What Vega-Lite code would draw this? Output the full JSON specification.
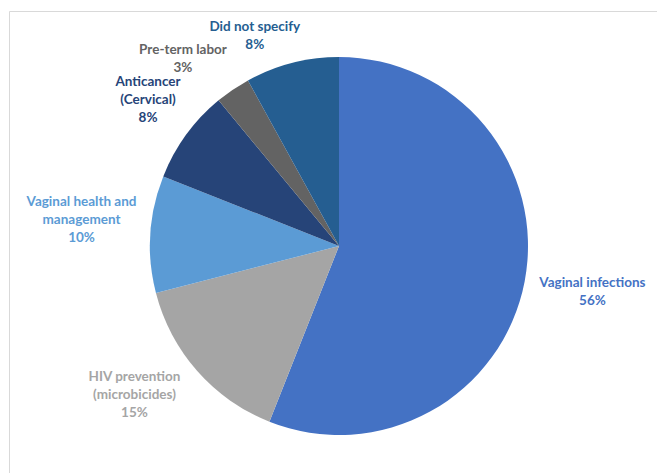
{
  "$schema": "https://vega.github.io/schema/vega-lite/v6.json",
  "width": 660,
  "height": 470,
  "autosize": {"type": "none"},
  "padding": {"left": 9, "top": 11, "right": 0, "bottom": 0},
  "background": "white",
  "view": {"stroke": "#d9d9d9", "strokeWidth": 1},
  "config": {"view": {"stroke": "#d9d9d9", "strokeWidth": 1}},
  "data": {
    "values": [
      {"category": "Vaginal infections", "percent": 56, "line1": "Vaginal infections", "line2": ""},
      {"category": "HIV prevention (microbicides)", "percent": 15, "line1": "HIV prevention", "line2": "(microbicides)"},
      {"category": "Vaginal health and management", "percent": 10, "line1": "Vaginal health and", "line2": "management"},
      {"category": "Anticancer (Cervical)", "percent": 8, "line1": "Anticancer", "line2": "(Cervical)"},
      {"category": "Pre-term labor", "percent": 3, "line1": "Pre-term labor", "line2": ""},
      {"category": "Did not specify", "percent": 8, "line1": "Did not specify", "line2": ""}
    ]
  },
  "transform": [
    {"window": [{"op": "sum", "field": "percent", "as": "cum"}], "frame": [null, 0]},
    {"calculate": "datum.cum - datum.percent", "as": "start"},
    {"calculate": "datum.cum - datum.percent / 2", "as": "mid"},
    {"calculate": "datum.line2 === '' ? datum.line1 + '\\n' + datum.percent + '%' : datum.line1 + '\\n' + datum.line2 + '\\n' + datum.percent + '%'", "as": "label"}
  ],
  "encoding": {
    "color": {
      "field": "category",
      "type": "nominal",
      "legend": null,
      "scale": {
        "domain": ["Vaginal infections", "HIV prevention (microbicides)", "Vaginal health and management", "Anticancer (Cervical)", "Pre-term labor", "Did not specify"],
        "range": ["#4472C4", "#A5A5A5", "#5B9BD5", "#264478", "#636363", "#255E91"]
      }
    }
  },
  "layer": [
    {
      "mark": {"type": "arc", "outerRadius": 189},
      "encoding": {
        "theta": {"field": "start", "type": "quantitative", "stack": null, "scale": {"domain": [0, 100]}},
        "theta2": {"field": "cum"}
      }
    },
    {
      "transform": [{"filter": "datum.category === 'Vaginal infections'"}],
      "mark": {"type": "text", "radius": 258, "dy": -11, "font": "Lato", "fontWeight": "bold", "fontSize": 13.5, "lineBreak": "\n", "lineHeight": 18, "align": "center", "baseline": "middle"},
      "encoding": {"theta": {"field": "mid", "type": "quantitative", "stack": null, "scale": {"domain": [0, 100]}}, "text": {"field": "label"}}
    },
    {
      "transform": [{"filter": "datum.category === 'HIV prevention (microbicides)'"}],
      "mark": {"type": "text", "radius": 250, "dx": -17, "dy": -34, "font": "Lato", "fontWeight": "bold", "fontSize": 13.5, "lineBreak": "\n", "lineHeight": 18, "align": "center", "baseline": "middle"},
      "encoding": {"theta": {"field": "mid", "type": "quantitative", "stack": null, "scale": {"domain": [0, 100]}}, "text": {"field": "label"}}
    },
    {
      "transform": [{"filter": "datum.category === 'Vaginal health and management'"}],
      "mark": {"type": "text", "radius": 258, "dy": -28, "font": "Lato", "fontWeight": "bold", "fontSize": 13.5, "lineBreak": "\n", "lineHeight": 18, "align": "center", "baseline": "middle"},
      "encoding": {"theta": {"field": "mid", "type": "quantitative", "stack": null, "scale": {"domain": [0, 100]}}, "text": {"field": "label"}}
    },
    {
      "transform": [{"filter": "datum.category === 'Anticancer (Cervical)'"}],
      "mark": {"type": "text", "radius": 241, "dx": 4, "dy": -22, "font": "Lato", "fontWeight": "bold", "fontSize": 13.5, "lineBreak": "\n", "lineHeight": 18, "align": "center", "baseline": "middle"},
      "encoding": {"theta": {"field": "mid", "type": "quantitative", "stack": null, "scale": {"domain": [0, 100]}}, "text": {"field": "label"}}
    },
    {
      "transform": [{"filter": "datum.category === 'Pre-term labor'"}],
      "mark": {"type": "text", "radius": 242, "dx": -20, "dy": 4, "font": "Lato", "fontWeight": "bold", "fontSize": 13.5, "lineBreak": "\n", "lineHeight": 18, "align": "center", "baseline": "middle"},
      "encoding": {"theta": {"field": "mid", "type": "quantitative", "stack": null, "scale": {"domain": [0, 100]}}, "text": {"field": "label"}}
    },
    {
      "transform": [{"filter": "datum.category === 'Did not specify'"}],
      "mark": {"type": "text", "radius": 230, "dx": -27, "dy": 4, "font": "Lato", "fontWeight": "bold", "fontSize": 13.5, "lineBreak": "\n", "lineHeight": 18, "align": "center", "baseline": "middle"},
      "encoding": {"theta": {"field": "mid", "type": "quantitative", "stack": null, "scale": {"domain": [0, 100]}}, "text": {"field": "label"}}
    }
  ]
}
